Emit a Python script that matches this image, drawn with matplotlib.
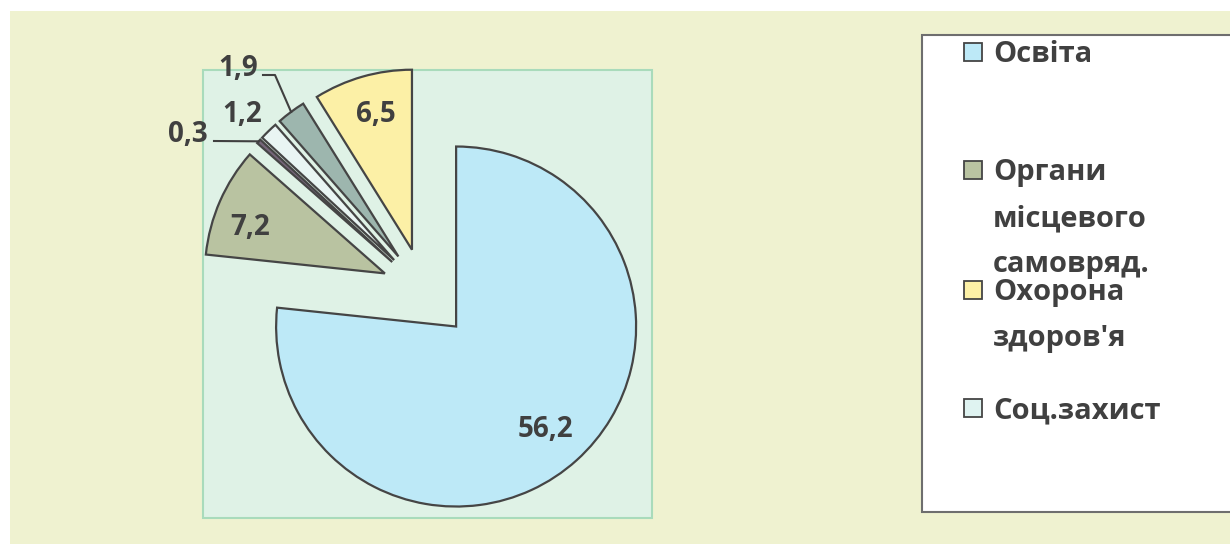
import matplotlib
matplotlib.use('Agg')
import matplotlib.pyplot as plt
from matplotlib.patches import Rectangle
import numpy as np

# ---- data ----
values = [56.2, 7.2, 0.3, 1.2, 1.9, 6.5]
value_labels = ['56,2', '7,2', '0,3', '1,2', '1,9', '6,5']
slice_colors = ['#bde9f7', '#b9c3a1', '#76667a', '#e9f5f3', '#9db6ae', '#fcf0a6']
explode = [0.27, 0.235, 0.235, 0.235, 0.235, 0.235]

legend_labels = ['Освіта', 'Органи\nмісцевого\nсамовряд.', "Охорона\nздоров'я", 'Соц.захист']
legend_colors = ['#bde9f7', '#b9c3a1', '#fcf0a6', '#dff3f1']

FONT = ['Open Sans', 'DejaVu Sans']
TXT = '#404040'
plt.rcParams['font.family'] = FONT

fig = plt.figure(figsize=(12.3, 5.44), dpi=100)
fig.patch.set_facecolor('white')
ax = fig.add_axes([0, 0, 1, 1])

# background + plot area
ax.add_patch(Rectangle((10, 11), 1230, 540, facecolor='#eff2d0', edgecolor='none', zorder=0))
ax.add_patch(Rectangle((203, 70), 449, 448, facecolor='#dff2e6', edgecolor='#a9dbbb', lw=1.5, zorder=1))

R = 180
# pie (y axis inverted -> counterclock=True appears clockwise, startangle -90 = 12 o'clock)
wedges, _ = ax.pie(values, colors=slice_colors, explode=[e * R for e in explode], radius=R,
                   center=(423.6, 290.4), startangle=-90, counterclock=True,
                   wedgeprops=dict(edgecolor='#454545', linewidth=1.6))
for w in wedges:
    w.set_zorder(3)

ax.set_xlim(0, 1230)
ax.set_ylim(544, 0)
ax.set_aspect('auto')
ax.axis('off')


def wedge_point(w, f, dang=0.0):
    mid = np.deg2rad((w.theta1 + w.theta2) / 2 + dang)
    cx, cy = w.center
    return cx + w.r * f * np.cos(mid), cy + w.r * f * np.sin(mid)

LFS = 20
# inside labels (factor of radius, angular shift in degrees)
inside = {0: (0.76, 1.0), 1: (0.79, -5.0), 5: (0.78, 1.0)}
for i, (f, da) in inside.items():
    x, y = wedge_point(wedges[i], f, da)
    ax.text(x, y, value_labels[i], ha='center', va='center', fontsize=LFS,
            fontweight='bold', color=TXT, zorder=5)

# outside labels with leader lines
ax.text(238, 68, value_labels[4], ha='center', va='center', fontsize=LFS,
        fontweight='bold', color=TXT, zorder=5)
ex, ey = wedge_point(wedges[4], 1.0)
ax.plot([263, 275, ex], [75, 75, ey], color=TXT, lw=1.5, zorder=4)

ax.text(242, 114, value_labels[3], ha='center', va='center', fontsize=LFS,
        fontweight='bold', color=TXT, zorder=5)

ax.text(188, 134, value_labels[2], ha='center', va='center', fontsize=LFS,
        fontweight='bold', color=TXT, zorder=5)
ex, ey = wedge_point(wedges[2], 1.0)
ax.plot([214, ex], [141, ey], color=TXT, lw=1.5, zorder=4)

# legend box
ax.add_patch(Rectangle((922, 35), 330, 477, facecolor='white', edgecolor='#6e6e6e', lw=1.5, zorder=2))
baselines = [62, 180, 300, 418]
line_step = 46
for lab, col, b in zip(legend_labels, legend_colors, baselines):
    ax.add_patch(Rectangle((964, b - 19), 18, 18, facecolor=col, edgecolor='#444444', lw=1.3, zorder=4))
    for k, line in enumerate(lab.split('\n')):
        ax.text(993, b + k * line_step, line, ha='left', va='baseline', fontsize=21,
                fontweight='bold', color=TXT, zorder=5)

fig.savefig('out.png', dpi=100, facecolor=fig.get_facecolor())
